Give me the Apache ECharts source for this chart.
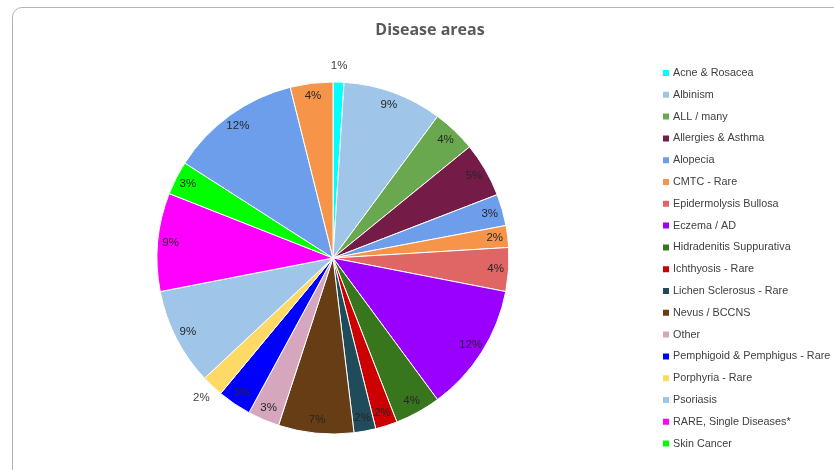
<!DOCTYPE html>
<html>
<head>
<meta charset="utf-8">
<script src="https://cdn.jsdelivr.net/npm/echarts@6/dist/echarts.min.js"></script>
<style>
  html, body { margin: 0; padding: 0; background: #fff; overflow: hidden; }
  #frame { position: absolute; left: 12px; top: 7px; width: 900px; height: 520px;
           border: 1px solid #b4b4b4; border-radius: 10px; box-sizing: border-box; }
  #chart { position: absolute; left: 0; top: 0; width: 834px; height: 470px; }
</style>
</head>
<body>
<div id="frame"></div>
<div id="chart"></div>
<script>
const titleText = 'Disease areas';
const categories = [
  'Acne & Rosacea', 'Albinism', 'ALL / many', 'Allergies & Asthma', 'Alopecia',
  'CMTC - Rare', 'Epidermolysis Bullosa', 'Eczema / AD', 'Hidradenitis Suppurativa',
  'Ichthyosis - Rare', 'Lichen Sclerosus - Rare', 'Nevus / BCCNS', 'Other',
  'Pemphigoid & Pemphigus - Rare', 'Porphyria - Rare', 'Psoriasis',
  'RARE, Single Diseases*', 'Skin Cancer', 'Vitiligo', 'Wounds'
];
const values = [1.0, 9.1, 4.0, 5.0, 2.9, 2.0, 4.0, 11.8, 4.2, 2.0, 2.0, 6.9, 2.9, 3.1, 2.0, 8.9, 9.0, 3.1, 12.0, 3.9];
const legendCount = 18; // legend shows the first 18 categories only

const colors = ['#00ffff', '#9fc5e8', '#6aa84f', '#741b47', '#6d9eeb', '#f6944a', '#e06666',
  '#9900ff', '#38761d', '#cc0000', '#1f4b5a', '#663d15', '#d5a6bd', '#0000ff', '#ffd966',
  '#9fc5e8', '#ff00ff', '#00ff00', '#6d9eeb', '#f6944a'];
const outsideLabels = ['Acne & Rosacea', 'Porphyria - Rare'];

const center = [333, 258];
const R = 176;
const labelStyle = { color: '#262626', fontSize: 11.5, fontFamily: 'Liberation Sans',
  textBorderWidth: 0, textBorderColor: 'transparent', textShadowBlur: 0, opacity: 1 };

const baseData = categories.map((n, i) => ({ name: n, value: values[i] }));

const chart = echarts.init(document.getElementById('chart'), null, { renderer: 'canvas' });
chart.setOption({
  animation: false,
  color: colors,
  title: {
    text: titleText, left: 425, top: 17, textAlign: 'center',
    textStyle: { color: '#595959', fontSize: 16, fontWeight: 'bold', fontFamily: 'Open Sans' }
  },
  legend: {
    orient: 'vertical', left: 661, top: 67, itemWidth: 8, itemHeight: 8, itemGap: 9.8,
    padding: 0, icon: 'rect', selectedMode: false,
    data: categories.slice(0, legendCount),
    textStyle: { color: '#404040', fontSize: 10.8, lineHeight: 12, fontFamily: 'Liberation Sans', padding: [0, 0, 0, -2] }
  },
  series: [
    {
      type: 'pie', center: center, radius: [0, R], startAngle: 90, clockwise: true,
      percentPrecision: 0, silent: true,
      itemStyle: { borderColor: '#ffffff', borderWidth: 1 },
      label: { show: false }, labelLine: { show: false },
      data: baseData
    },
    {
      type: 'pie', center: center, radius: [144, R], startAngle: 90, clockwise: true,
      percentPrecision: 0, silent: true, z: 5,
      itemStyle: { color: 'rgba(0,0,0,0)', borderWidth: 0 },
      label: Object.assign({ show: true, position: 'inside', formatter: '{d}%' }, labelStyle),
      labelLine: { show: false },
      data: baseData.map(d => Object.assign({}, d, outsideLabels.includes(d.name) ? { label: { show: false } } : {}))
    },
    {
      type: 'pie', center: center, radius: [R, 202], startAngle: 90, clockwise: true,
      percentPrecision: 0, silent: true, z: 5,
      itemStyle: { color: 'rgba(0,0,0,0)', borderWidth: 0 },
      label: Object.assign({ show: true, position: 'inside', formatter: '{d}%' }, labelStyle, { color: '#404040' }),
      labelLine: { show: false },
      data: baseData.map(d => Object.assign({}, d, outsideLabels.includes(d.name) ? {} : { label: { show: false } }))
    }
  ]
});
</script>
</body>
</html>
